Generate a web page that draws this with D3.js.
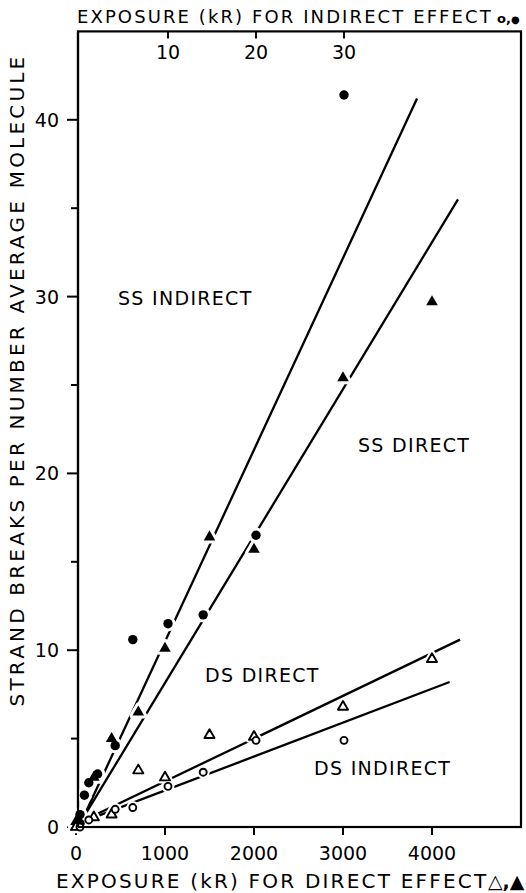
<!DOCTYPE html>
<html>
<head>
  <meta charset="UTF-8">
  <style>
body { margin: 0; background: #fff; }
text { font-family: 'DejaVu Sans', sans-serif; fill: #000; }
  </style>
</head>
<body>
<svg id="chart"></svg>
<script src="https://cdn.jsdelivr.net/npm/d3@7/dist/d3.min.js"></script>
<script>

// readings
// indirect effect: exposure in kR on the top axis, direct effect: kR on the bottom axis
let ssIndirect = [[0, 0.2], [0, 0.7], [0.5, 1.8], [1, 2.5], [2, 3.0], [4, 4.6], [6, 10.6], [10, 11.5], [14, 12.0], [20, 16.5], [30, 41.4]];
let ssDirect = [[0, 0], [0, 0.3], [200, 2.8], [400, 5.0], [700, 6.5], [1000, 10.1], [1500, 16.4], [2000, 15.7], [3000, 25.4], [4000, 29.7]];
let dsDirect = [[0, 0], [200, 0.55], [400, 0.7], [700, 3.2], [1000, 2.8], [1500, 5.2], [2000, 5.1], [3000, 6.8], [4000, 9.5]];
let dsIndirect = [[0, 0], [1, 0.4], [4, 1.0], [6, 1.1], [10, 2.3], [14, 3.1], [20, 4.9], [30, 4.9]];

// fitted lines, start and end points
let ssIndirectFit = [[0.34, 0.5], [38.3, 41.2]];
let ssDirectFit = [[79, 0.5], [4292, 35.5]];
let dsDirectFit = [[79, 0.35], [4315, 10.6]];
let dsIndirectFit = [[0.34, 0.3], [42.0, 8.2]];

let topTicks = [10, 20, 30];
let bottomTicks = [0, 1000, 2000, 3000, 4000];
let yMajor = [0, 10, 20, 30, 40];
let yMinor = [5, 15, 25, 35];

let labels = [
  {text: "SS INDIRECT", x: 118, y: 305},
  {text: "SS DIRECT", x: 358, y: 452},
  {text: "DS DIRECT", x: 205, y: 682},
  {text: "DS INDIRECT", x: 314, y: 775}
];

let width = 526, height = 893;

let svg = d3.select("#chart")
    .attr("width", width)
    .attr("height", height);

let xDirect = d3.scaleLinear().domain([0, 5000]).range([76, 521]);
let xIndirect = d3.scaleLinear().domain([0, 50]).range([80, 520]);
let y = d3.scaleLinear().domain([0, 45]).range([827, 31.4]);

// frame
svg.append("rect")
    .attr("x", 78)
    .attr("y", y(45))
    .attr("width", 521 - 78)
    .attr("height", y(0) - y(45))
    .attr("fill", "none")
    .attr("stroke", "#000")
    .attr("stroke-width", 2.2);

// left axis ticks
svg.selectAll(".ymaj")
    .data(yMajor)
    .enter()
    .append("line")
        .attr("x1", 67).attr("x2", 78)
        .attr("y1", d => y(d)).attr("y2", d => y(d))
        .attr("stroke", "#000").attr("stroke-width", 2);

svg.selectAll(".ymin")
    .data(yMinor)
    .enter()
    .append("line")
        .attr("x1", 71).attr("x2", 78)
        .attr("y1", d => y(d)).attr("y2", d => y(d))
        .attr("stroke", "#000").attr("stroke-width", 2);

svg.selectAll(".ylab")
    .data(yMajor)
    .enter()
    .append("text")
        .attr("x", 59)
        .attr("y", d => y(d) + 7)
        .attr("text-anchor", "end")
        .style("font-size", "19px")
        .text(d => d);

// top axis
svg.selectAll(".ttick")
    .data(topTicks)
    .enter()
    .append("line")
        .attr("x1", d => xIndirect(d)).attr("x2", d => xIndirect(d))
        .attr("y1", y(45)).attr("y2", y(45) + 7)
        .attr("stroke", "#000").attr("stroke-width", 2);

svg.selectAll(".tlab")
    .data(topTicks)
    .enter()
    .append("text")
        .attr("x", d => xIndirect(d))
        .attr("y", 59)
        .attr("text-anchor", "middle")
        .style("font-size", "19px")
        .text(d => d);

// bottom axis
svg.selectAll(".btick")
    .data(bottomTicks)
    .enter()
    .append("line")
        .attr("x1", d => xDirect(d)).attr("x2", d => xDirect(d))
        .attr("y1", y(0)).attr("y2", y(0) + 8)
        .attr("stroke", "#000").attr("stroke-width", 2);

svg.selectAll(".blab")
    .data(bottomTicks)
    .enter()
    .append("text")
        .attr("x", d => xDirect(d))
        .attr("y", 860)
        .attr("text-anchor", "middle")
        .style("font-size", "19px")
        .text(d => d);

// axis titles
svg.append("text")
    .attr("x", 77)
    .attr("y", 23)
    .style("font-size", "18px")
    .style("letter-spacing", "2.1px")
    .text("EXPOSURE (kR) FOR INDIRECT EFFECT");
let topSym = svg.append("text")
    .attr("x", 497)
    .attr("y", 23)
    .style("font-weight", "bold");
topSym.append("tspan").style("font-size", "13px").text("o,");
topSym.append("tspan").style("font-size", "10px").text("●");

svg.append("text")
    .attr("x", 56)
    .attr("y", 888)
    .style("font-size", "20px")
    .style("letter-spacing", "2.2px")
    .text("EXPOSURE (kR) FOR DIRECT EFFECT");
svg.append("text")
    .attr("x", 488)
    .attr("y", 888)
    .style("font-size", "19px")
    .style("font-weight", "bold")
    .text("△,▲");

svg.append("text")
    .attr("transform", "translate(24,380) rotate(-90)")
    .attr("text-anchor", "middle")
    .style("font-size", "20px")
    .style("letter-spacing", "3.2px")
    .text("STRAND BREAKS PER NUMBER AVERAGE MOLECULE");

// fitted lines
let fits = [
  {pts: ssIndirectFit, x: xIndirect},
  {pts: ssDirectFit, x: xDirect},
  {pts: dsDirectFit, x: xDirect},
  {pts: dsIndirectFit, x: xIndirect}
];
fits.forEach(f => {
  svg.append("path")
      .attr("d", d3.line().x(d => f.x(d[0])).y(d => y(d[1]))(f.pts))
      .attr("stroke", "#000")
      .attr("stroke-width", 2.3)
      .attr("fill", "none");
});

// markers: a white halo first so lines break around them
let tri = d3.symbol().type(d3.symbolTriangle);
let series = [
  {data: ssIndirect, x: xIndirect, kind: "circle", fill: true},
  {data: ssDirect, x: xDirect, kind: "tri", fill: true},
  {data: dsDirect, x: xDirect, kind: "tri", fill: false},
  {data: dsIndirect, x: xIndirect, kind: "circle", fill: false}
];

function drawMarks(s, halo) {
  let g = svg.append("g");
  let sel = g.selectAll("x").data(s.data).enter();
  if (s.kind == "circle") {
    sel.append("circle")
        .attr("cx", d => s.x(d[0]))
        .attr("cy", d => y(d[1]))
        .attr("r", s.fill ? 4.7 : 3.5)
        .attr("fill", halo ? "#fff" : (s.fill ? "#000" : "#fff"))
        .attr("stroke", halo ? "#fff" : "#000")
        .attr("stroke-width", halo ? 6 : (s.fill ? 0 : 1.9));
  } else {
    sel.append("path")
        .attr("d", tri.size(s.fill ? 58 : 44)())
        .attr("transform", d => "translate(" + s.x(d[0]) + "," + y(d[1]) + ")")
        .attr("fill", halo ? "#fff" : (s.fill ? "#000" : "#fff"))
        .attr("stroke", halo ? "#fff" : "#000")
        .attr("stroke-width", halo ? 6 : (s.fill ? 0 : 1.9))
        .attr("stroke-linejoin", "round");
  }
}
series.forEach(s => drawMarks(s, true));
series.forEach(s => drawMarks(s, false));

// keep axis line on top of the halos
svg.append("line")
    .attr("x1", 78).attr("x2", 78)
    .attr("y1", y(45)).attr("y2", y(0))
    .attr("stroke", "#000").attr("stroke-width", 2.2);
svg.append("line")
    .attr("x1", 78).attr("x2", 521)
    .attr("y1", y(0)).attr("y2", y(0))
    .attr("stroke", "#000").attr("stroke-width", 2.2);

// curve labels
svg.selectAll(".lab")
    .data(labels)
    .enter()
    .append("text")
        .attr("x", d => d.x)
        .attr("y", d => d.y)
        .style("font-size", "19px")
        .style("letter-spacing", "1.3px")
        .text(d => d.text);

</script>
</body>
</html>
